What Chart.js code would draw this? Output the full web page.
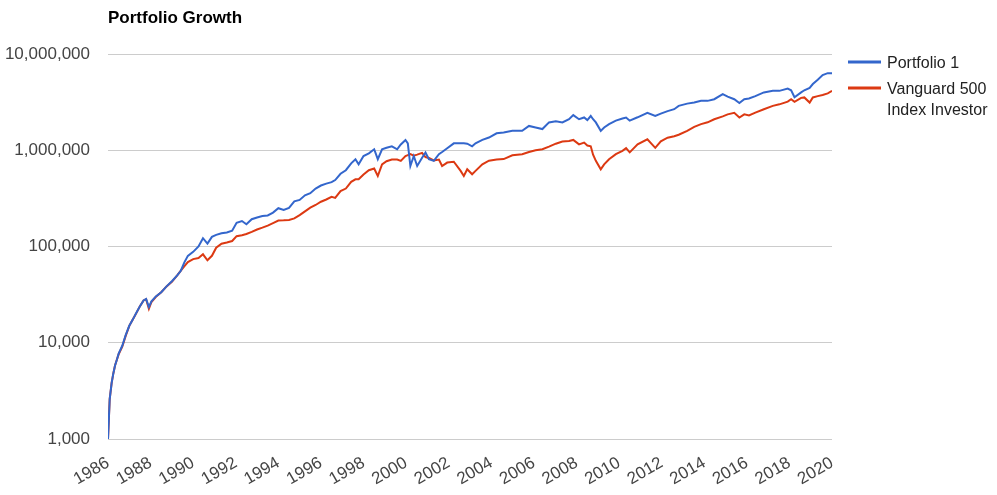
<!DOCTYPE html>
<html>
<head>
<meta charset="utf-8">
<title>Portfolio Growth</title>
<script src="https://cdn.jsdelivr.net/npm/chart.js@4.4.1/dist/chart.umd.min.js"></script>
<style>
    html, body { margin: 0; padding: 0; background: #fff; }
    #growth-chart { display: block; }
</style>
</head>
<body>
<canvas id="growth-chart" width="997" height="495"></canvas>
<script>
    'use strict';

    // Values (decimal year, balance in $)
    const years = [
        1986.00, 1986.08, 1986.17, 1986.25, 1986.33, 1986.42, 1986.50, 1986.67, 1986.83, 1987.00,
        1987.17, 1987.33, 1987.50, 1987.67, 1987.79, 1987.92, 1988.04, 1988.25, 1988.50, 1988.75,
        1989.00, 1989.25, 1989.42, 1989.58, 1989.75, 1990.00, 1990.25, 1990.46, 1990.67, 1990.88,
        1991.08, 1991.33, 1991.58, 1991.83, 1992.04, 1992.29, 1992.50, 1992.75, 1993.00, 1993.25,
        1993.50, 1993.75, 1994.00, 1994.25, 1994.50, 1994.75, 1995.00, 1995.25, 1995.50, 1995.75,
        1996.00, 1996.25, 1996.50, 1996.67, 1996.92, 1997.17, 1997.42, 1997.62, 1997.77, 1998.00,
        1998.25, 1998.50, 1998.67, 1998.87, 1999.08, 1999.33, 1999.58, 1999.75, 1999.97, 2000.08,
        2000.20, 2000.36, 2000.52, 2000.75, 2000.91, 2001.07, 2001.30, 2001.54, 2001.69, 2001.93,
        2002.24, 2002.56, 2002.71, 2002.87, 2003.10, 2003.26, 2003.58, 2003.89, 2004.25, 2004.58,
        2004.99, 2005.45, 2005.77, 2006.08, 2006.40, 2006.71, 2007.03, 2007.34, 2007.65, 2007.85,
        2008.12, 2008.36, 2008.51, 2008.67, 2008.78, 2008.91, 2009.14, 2009.30, 2009.53, 2009.85,
        2010.16, 2010.33, 2010.50, 2010.87, 2011.33, 2011.70, 2011.96, 2012.28, 2012.59, 2012.80,
        2013.20, 2013.53, 2013.85, 2014.16, 2014.47, 2014.87, 2015.10, 2015.41, 2015.65, 2015.88,
        2016.10, 2016.40, 2016.80, 2017.22, 2017.53, 2017.92, 2018.08, 2018.24, 2018.55, 2018.70,
        2018.95, 2019.10, 2019.33, 2019.56, 2019.80, 2020.00
    ];

    const portfolio1 = [
        1000, 2600, 3800, 4800, 5800, 6700, 7700, 9300, 12000, 15000,
        17500, 20500, 24000, 27500, 28500, 23500, 26900, 30300, 33500, 38500,
        43500, 50000, 56000, 68000, 80000, 88000, 100000, 122000, 107000, 126000,
        132000, 137000, 140000, 146000, 176000, 184000, 170000, 192000, 200000, 207000,
        210000, 225000, 250000, 240000, 252000, 295000, 305000, 340000, 358000, 400000,
        430000, 450000, 466000, 490000, 570000, 620000, 730000, 807000, 714000, 870000,
        930000, 1024000, 807000, 1024000, 1060000, 1100000, 1024000, 1150000, 1280000, 1180000,
        686000, 871000, 686000, 835000, 946000, 807000, 776000, 911000, 960000, 1050000,
        1180000, 1180000, 1180000, 1170000, 1100000, 1180000, 1280000, 1356000, 1500000, 1528000,
        1590000, 1590000, 1790000, 1725000, 1660000, 1946000, 2000000, 1946000, 2100000, 2316000,
        2100000, 2190000, 2060000, 2270000, 2100000, 1946000, 1590000, 1725000, 1870000, 2030000,
        2140000, 2190000, 2030000, 2200000, 2450000, 2270000, 2400000, 2550000, 2670000, 2890000,
        3050000, 3130000, 3260000, 3260000, 3390000, 3830000, 3610000, 3390000, 3100000, 3390000,
        3450000, 3650000, 3990000, 4140000, 4140000, 4380000, 4200000, 3550000, 3990000, 4200000,
        4450000, 4870000, 5390000, 6040000, 6320000, 6320000
    ];

    const vanguard500 = [
        1000, 2600, 3800, 4800, 5800, 6700, 7600, 9100, 11800, 15000,
        17500, 20300, 24000, 27500, 28300, 22500, 26500, 30000, 33500, 38500,
        43000, 50000, 56000, 62000, 69000, 74000, 76000, 83000, 72000, 80000,
        97000, 107000, 110000, 114000, 128000, 131000, 135000, 142000, 150000, 157000,
        165000, 175000, 186000, 187000, 189000, 196000, 212000, 232000, 253000, 270000,
        292000, 308000, 328000, 320000, 377000, 400000, 470000, 499000, 499000, 560000,
        620000, 645000, 540000, 714000, 770000, 800000, 800000, 776000, 871000, 890000,
        911000, 880000, 900000, 940000, 850000, 830000, 785000, 800000, 686000, 745000,
        760000, 610000, 540000, 634000, 563000, 610000, 714000, 780000, 800000, 810000,
        888000, 911000, 960000, 1000000, 1024000, 1090000, 1170000, 1230000, 1250000, 1280000,
        1150000, 1200000, 1120000, 1100000, 900000, 776000, 634000, 714000, 807000, 911000,
        987000, 1050000, 950000, 1150000, 1300000, 1060000, 1240000, 1350000, 1400000, 1450000,
        1590000, 1750000, 1870000, 1950000, 2100000, 2250000, 2360000, 2450000, 2190000, 2360000,
        2300000, 2460000, 2670000, 2890000, 3000000, 3200000, 3390000, 3180000, 3500000, 3540000,
        3130000, 3540000, 3650000, 3750000, 3900000, 4140000
    ];

    const seriesNames = ['Portfolio 1', ['Vanguard 500', 'Index Investor']];
    const seriesColors = ['#3366cc', '#dc3912'];
    const xTicks = [1986, 1988, 1990, 1992, 1994, 1996, 1998, 2000, 2002, 2004,
                    2006, 2008, 2010, 2012, 2014, 2016, 2018, 2020];
    const yTicks = [1000, 10000, 100000, 1000000, 10000000];

    const FONT = '"Liberation Sans", Arial, sans-serif';

    function toPoints(values) {
        return years.map((yr, i) => ({ x: yr, y: values[i] }));
    }

    // Title and wrapped legend, drawn next to the plot area
    const sidePlugin = {
        id: 'sideText',
        afterDraw(chart) {
            const ctx = chart.ctx;
            const area = chart.chartArea;
            ctx.save();
            ctx.fillStyle = '#000';
            ctx.font = 'bold 17px ' + FONT;
            ctx.textAlign = 'left';
            ctx.textBaseline = 'alphabetic';
            ctx.fillText('Portfolio Growth', area.left, 23);

            const lineX = area.right + 16;
            const textX = area.right + 55;
            let y = 62;
            ctx.font = '16px ' + FONT;
            seriesNames.forEach((name, i) => {
                const lines = Array.isArray(name) ? name : [name];
                ctx.strokeStyle = seriesColors[i];
                ctx.lineWidth = 3;
                ctx.beginPath();
                ctx.moveTo(lineX, y);
                ctx.lineTo(lineX + 33, y);
                ctx.stroke();
                ctx.fillStyle = '#222';
                lines.forEach((txt, j) => {
                    ctx.fillText(txt, textX, y + 6 + j * 21);
                });
                y += 26 + (lines.length - 1) * 21 + 0;
            });
            ctx.restore();
        }
    };

    function createGrowthChart() {
        const ctx = document.getElementById('growth-chart');
        if (!ctx) return;

        new Chart(ctx, {
            type: 'line',
            data: {
                datasets: [{
                    label: 'Portfolio 1',
                    data: toPoints(portfolio1),
                    borderColor: seriesColors[0],
                    borderWidth: 2,
                    pointRadius: 0,
                    tension: 0
                }, {
                    label: 'Vanguard 500 Index Investor',
                    data: toPoints(vanguard500),
                    borderColor: seriesColors[1],
                    borderWidth: 2,
                    pointRadius: 0,
                    tension: 0
                }]
            },
            options: {
                responsive: false,
                animation: false,
                layout: {
                    padding: { top: 54, right: 165, bottom: 0, left: 0 }
                },
                plugins: {
                    legend: { display: false },
                    title: { display: false },
                    tooltip: { enabled: false }
                },
                scales: {
                    x: {
                        type: 'linear',
                        min: 1986,
                        max: 2020,
                        grid: { display: false },
                        border: { display: false },
                        afterBuildTicks: function(axis) {
                            axis.ticks = xTicks.map(v => ({ value: v }));
                        },
                        afterFit: function(axis) {
                            axis.height = 56;
                        },
                        ticks: {
                            autoSkip: false,
                            minRotation: 30,
                            maxRotation: 30,
                            padding: 6,
                            color: '#444',
                            font: { family: FONT, size: 17 },
                            callback: function(value) {
                                return String(value);
                            }
                        }
                    },
                    y: {
                        type: 'logarithmic',
                        min: 1000,
                        max: 10000000,
                        grid: {
                            color: '#cccccc',
                            lineWidth: 1,
                            drawTicks: false
                        },
                        border: { display: false },
                        afterBuildTicks: function(axis) {
                            axis.ticks = yTicks.map(v => ({ value: v }));
                        },
                        afterFit: function(axis) {
                            axis.width = 108;
                        },
                        ticks: {
                            padding: 18,
                            color: '#444',
                            font: { family: FONT, size: 17 },
                            callback: function(value) {
                                return Number(value).toLocaleString('en-US');
                            }
                        }
                    }
                }
            },
            plugins: [sidePlugin]
        });
    }

    createGrowthChart();
</script>
</body>
</html>
